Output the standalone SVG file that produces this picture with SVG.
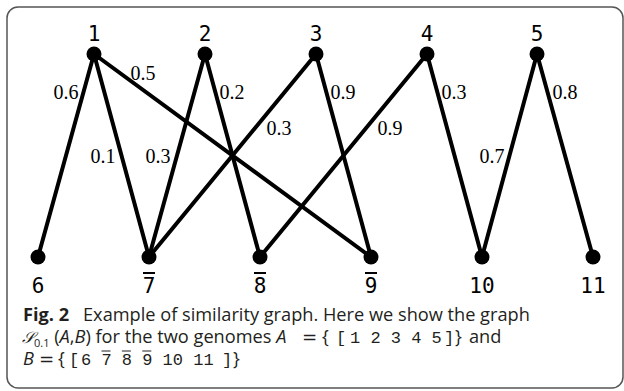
<svg xmlns="http://www.w3.org/2000/svg" width="624" height="391" viewBox="0 0 624 391">
<style>
.frame{fill:#fff;stroke:#555;stroke-width:1.5}
.edge{stroke:#000;stroke-width:4;stroke-linecap:round;fill:none}
.node circle{fill:#000}
.nl{font-family:"DejaVu Sans Mono",monospace;font-size:21px;fill:#000;text-anchor:middle}
.ov{stroke:#000;stroke-width:2}
.wl{font-family:"Liberation Serif","Times New Roman",serif;font-size:20px;fill:#000;text-anchor:middle}
.cap{font-family:"Open Sans","Noto Sans",sans-serif;font-size:18.2px;fill:#231f20}
.b{font-weight:bold}
.i{font-style:italic}
.m{font-family:"Liberation Mono",monospace;font-size:17px}
.cov{stroke:#231f20;stroke-width:1}
</style>
<rect class="frame" x="7" y="7" width="616" height="381" rx="11"/>
<g id="connectors">
<line class="edge" x1="94" y1="54" x2="38" y2="257"/>
<line class="edge" x1="94" y1="54" x2="149" y2="257"/>
<line class="edge" x1="94" y1="54" x2="371" y2="257"/>
<line class="edge" x1="205" y1="54" x2="149" y2="257"/>
<line class="edge" x1="205" y1="54" x2="260" y2="257"/>
<line class="edge" x1="316" y1="54" x2="149" y2="257"/>
<line class="edge" x1="316" y1="54" x2="371" y2="257"/>
<line class="edge" x1="427" y1="54" x2="260" y2="257"/>
<line class="edge" x1="427" y1="54" x2="482" y2="257"/>
<line class="edge" x1="537" y1="54" x2="482" y2="257"/>
<line class="edge" x1="537" y1="54" x2="593" y2="257"/>
<text class="wl" x="66" y="99">0.6</text>
<text class="wl" x="143" y="80">0.5</text>
<text class="wl" x="232" y="99">0.2</text>
<text class="wl" x="103" y="163">0.1</text>
<text class="wl" x="158" y="163">0.3</text>
<text class="wl" x="279" y="135">0.3</text>
<text class="wl" x="343" y="99">0.9</text>
<text class="wl" x="390" y="135">0.9</text>
<text class="wl" x="454" y="99">0.3</text>
<text class="wl" x="492" y="163">0.7</text>
<text class="wl" x="565" y="99">0.8</text>
</g>
<g id="n1" class="node"><circle cx="94" cy="54" r="7.5"/><text class="nl" x="94" y="41">1</text></g>
<g id="n2" class="node"><circle cx="205" cy="54" r="7.5"/><text class="nl" x="205" y="41">2</text></g>
<g id="n3" class="node"><circle cx="316" cy="54" r="7.5"/><text class="nl" x="316" y="41">3</text></g>
<g id="n4" class="node"><circle cx="427" cy="54" r="7.5"/><text class="nl" x="427" y="41">4</text></g>
<g id="n5" class="node"><circle cx="537" cy="54" r="7.5"/><text class="nl" x="537" y="41">5</text></g>
<g id="n6" class="node"><circle cx="38" cy="257" r="7.5"/><text class="nl" x="38" y="293">6</text></g>
<g id="n7" class="node"><circle cx="149" cy="257" r="7.5"/><text class="nl" x="149" y="293">7</text><line class="ov" x1="143" y1="273" x2="155" y2="273"/></g>
<g id="n8" class="node"><circle cx="260" cy="257" r="7.5"/><text class="nl" x="260" y="293">8</text><line class="ov" x1="254" y1="273" x2="266" y2="273"/></g>
<g id="n9" class="node"><circle cx="371" cy="257" r="7.5"/><text class="nl" x="371" y="293">9</text><line class="ov" x1="365" y1="273" x2="377" y2="273"/></g>
<g id="n10" class="node"><circle cx="482" cy="257" r="7.5"/><text class="nl" x="482" y="293">10</text></g>
<g id="n11" class="node"><circle cx="593" cy="257" r="7.5"/><text class="nl" x="593" y="293">11</text></g>
<g id="caption" class="cap">
<text x="23" y="321"><tspan class="b">Fig. 2</tspan><tspan x="83">Example of similarity graph. Here we show the graph</tspan></text>
<text x="22" y="343"><tspan font-family="DejaVu Serif,serif" font-style="italic" font-size="16">𝒮</tspan><tspan dy="4" font-size="11">0.1</tspan><tspan dy="-4"> (</tspan><tspan class="i">A</tspan><tspan>,</tspan><tspan class="i">B</tspan><tspan>) for the two genomes </tspan><tspan class="i">A</tspan><tspan x="302" font-family="DejaVu Sans,sans-serif">=</tspan><tspan x="322">{</tspan><tspan x="336" class="m">[</tspan><tspan x="350" class="m">1 2 3 4 5</tspan><tspan x="444" class="m">]</tspan><tspan x="455">}</tspan><tspan x="469">and</tspan></text>
<text y="365"><tspan x="23" class="i">B</tspan><tspan x="39" font-family="DejaVu Sans,sans-serif">=</tspan><tspan x="58">{</tspan><tspan x="69" class="m">[</tspan><tspan x="81" class="m">6 7 8 9 10 11</tspan><tspan x="222" class="m">]</tspan><tspan x="233">}</tspan></text>
<line class="cov" x1="101.5" y1="351" x2="110.5" y2="351"/>
<line class="cov" x1="121.9" y1="351" x2="130.9" y2="351"/>
<line class="cov" x1="142.3" y1="351" x2="151.3" y2="351"/>
</g>
</svg>
